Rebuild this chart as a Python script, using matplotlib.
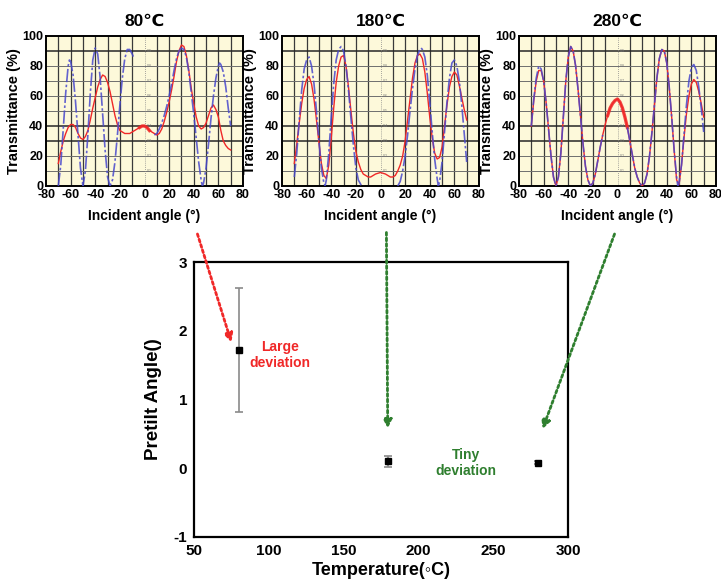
import numpy as np
import matplotlib
matplotlib.use('Agg')
import matplotlib.pyplot as plt

plt.rcParams['font.family'] = ['Liberation Sans', 'DejaVu Sans']
plt.rcParams['font.weight'] = 'bold'
plt.rcParams['axes.unicode_minus'] = False

nan = np.nan

# ---- transmittance curves ----
# simulated (blue dash-dot) and measured (red) for each rubbing temperature
sim80_angle = [-70, -68, -66, -64, -62, -61, -60, -58, -56, -54, -52, -50, -48, -46, -44, -42, -40,
               -38, -36, -34, -32, -30, -28, -26, -24, -22, -20, -18, -16, -14, -12, -10, -9, nan,
               8, 10, 12, 14, 16, 18, 20, 22, 24, 26, 28, 30, 32, 34, 36, 38, 40, 42, 44, 46, 47,
               48, 50, 52, 54, 56, 58, 60, 61, 62, 64, 66, 68, 70]
sim80_T = [0, 14, 38, 62, 80, 84, 83, 74, 56, 34, 12, 0, 10, 34, 62, 84, 92,
           88, 72, 48, 24, 6, 0, 4, 16, 34, 54, 72, 85, 91, 91, 88, 86, nan,
           34, 35, 38, 42, 47, 53, 60, 68, 77, 85, 90, 92, 91, 86, 76, 62, 48, 32, 16, 4, 0,
           2, 12, 28, 45, 60, 72, 80, 82, 81, 76, 66, 52, 40]

meas_angle = [-70, -68, -66, -64, -62, -60, -58, -56, -54, -52, -50, -48, -46, -44, -42, -40,
              -38, -36, -34, -32, -30, -28, -26, -24, -22, -20, -18, -16, -14, -12, -10, -8,
              -6, -4, -2, 0, 2, 4, 6, 8, 10, 12, 14, 16, 18, 20, 22, 24, 26, 28, 30, 32,
              34, 36, 38, 40, 42, 44, 46, 48, 50, 52, 54, 56, 58, 60, 62, 64, 66, 68, 70]
meas80_T = [15, 23, 30, 35, 39, 41, 41, 39, 35, 32, 31, 33, 37, 44, 52, 59,
            66, 71, 74, 73, 69, 63, 55, 47, 41, 37, 36, 35, 35, 35, 36, 37,
            38, 39, 40, 40, 39, 37, 36, 35, 34, 35, 38, 43, 49, 56, 64, 73, 83, 90, 94, 93,
            87, 77, 65, 55, 46, 40, 38, 39, 42, 47, 52, 54, 51, 46, 37, 30, 27, 25, 24]

sim180_angle = [-70, -68, -66, -64, -62, -60, -58, -56, -54, -52, -50, -48, -46, -45, -44, -42,
                -40, -38, -36, -34, -32, -30, -28, -26, -24, -22, -20, -18, -16, -15, nan,
                14, 16, 18, 20, 22, 24, 26, 28, 30, 32, 33, 34, 36, 38, 40, 42, 44, 46, 47,
                48, 50, 52, 54, 56, 58, 60, 62, 64, 66, 68, 70]
sim180_T = [6, 22, 44, 64, 78, 84, 86, 80, 68, 50, 30, 12, 2, 0, 4, 22,
            46, 68, 84, 91, 93, 90, 80, 64, 45, 27, 12, 4, 1, 0, nan,
            0, 3, 10, 20, 34, 50, 65, 78, 87, 91, 92, 91, 86, 74, 56, 36, 18, 5, 0,
            3, 16, 36, 56, 72, 82, 84, 80, 70, 54, 35, 16]
meas180_T = [15, 28, 42, 55, 65, 71, 73, 68, 58, 44, 29, 15, 7, 5, 14, 32,
             52, 69, 80, 86, 87, 80, 66, 50, 35, 23, 16, 11, 8, 7, 6, 6,
             7, 8, 8.5, 9, 8.5, 8, 7, 6, 6, 7, 10, 14, 20, 30, 44, 58, 72, 82, 87, 88,
             85, 76, 62, 46, 32, 22, 18, 19, 26, 40, 54, 66, 73, 76, 74, 67, 59, 51, 44]

sim280_angle = [-70, -68, -66, -64, -62, -60, -58, -56, -54, -52, -50, -48, -46, -44, -42, -40,
                -38, -36, -34, -32, -30, -28, -26, -24, -22, -20, -18, -16, -14, -12, nan,
                8, 10, 12, 14, 16, 18, 20, 22, 24, 26, 28, 30, 32, 34, 36, 38, 40, 42, 44, 46,
                48, 49, 50, 52, 54, 56, 58, 60, 62, 64, 66, 68, 70]
sim280_T = [40, 58, 72, 80, 78, 70, 56, 38, 20, 6, 0, 6, 22, 46, 70, 86,
            93, 90, 80, 64, 46, 28, 13, 4, 0, 2, 8, 17, 26, 34, nan,
            39, 30, 21, 12, 6, 2, 0, 2, 8, 20, 36, 54, 72, 85, 91, 90, 82, 66, 46, 24,
            6, 0, 2, 14, 34, 54, 70, 79, 81, 77, 66, 52, 36]
meas280_T = [40, 57, 70, 77, 77, 70, 56, 38, 20, 6, 0, 6, 22, 46, 70, 86,
             93, 90, 80, 64, 46, 28, 13, 4, 0, 2, 8, 17, 26, 34, 41, 47,
             52, 55, 57, 58, 56, 52, 46, 39, 30, 21, 12, 6, 2, 0, 2, 8, 20, 36, 54, 72,
             85, 91, 90, 82, 66, 46, 24, 4, 1, 14, 32, 48, 60, 68, 71, 69, 63, 55, 46]

# half-width (deg) of the noisy, thick part of the measured trace around normal incidence
noisy_halfwidth = [4, 0, 8]

panel_titles = ['80\u2103', '180\u2103', '280\u2103']

# ---- pretilt angle vs rubbing temperature ----
temperature = [80, 180, 280]
pretilt = [1.72, 0.10, 0.08]
pretilt_err = [0.90, 0.08, 0.02]

RED = '#f02828'
GREEN = '#2f7f2f'
BLUE = '#4848cc'

fig = plt.figure(figsize=(7.21, 5.87), dpi=100)

panel_lefts = [46, 282, 519]
panel_data = [
    (sim80_angle, sim80_T, meas_angle, meas80_T),
    (sim180_angle, sim180_T, meas_angle, meas180_T),
    (sim280_angle, sim280_T, meas_angle, meas280_T),
]

top_axes = []
for left, title, hw, (sa, st, ma, mt) in zip(panel_lefts, panel_titles, noisy_halfwidth, panel_data):
    ax = fig.add_axes([left / 721, 1 - 186 / 587, 197 / 721, 150 / 587])
    ax.set_facecolor('#fdf9da')
    ax.set_xlim(-80, 80)
    ax.set_ylim(0, 100)
    # instrument-style grid
    for gx in range(-70, 80, 10):
        if gx == 0:
            continue
        ax.axvline(gx, color='#3a3a3a', lw=0.9, zorder=1)
    for gy in range(10, 100, 10):
        dark = gy in (30, 40, 90)
        ax.axhline(gy, color='#262626' if dark else '#6e6e6e',
                   lw=1.1 if dark else 0.7, zorder=1)
    ax.axvline(0, color='#888888', lw=0.6, ls=(0, (1, 1.5)), zorder=1)
    for k in range(1, 10):
        ax.text(2, k * 10, '0.%d' % k, fontsize=2.5, color='#777777',
                fontweight='normal', va='center', zorder=1)
    ax.plot(ma, mt, color=RED, lw=1.0, zorder=3)
    if hw:
        ma_arr = np.array(ma)
        mt_arr = np.array(mt)
        near = np.abs(ma_arr) <= hw
        ax.plot(ma_arr[near], mt_arr[near], color=RED, lw=2.4, alpha=0.85, zorder=3)
    ax.plot(sa, st, color=BLUE, lw=1.2, ls=(0, (8, 1.5, 1.5, 1.5)), alpha=0.85, zorder=4)
    ax.set_xticks(range(-80, 81, 20))
    ax.set_yticks(range(0, 101, 20))
    ax.tick_params(length=0, labelsize=9, pad=2)
    for lab in ax.get_xticklabels() + ax.get_yticklabels():
        lab.set_fontweight('bold')
    for sp in ax.spines.values():
        sp.set_linewidth(1.4)
    ax.set_title(title, fontsize=12.5, fontweight='bold', pad=7)
    ax.set_xlabel('Incident angle (\u00b0)', fontsize=10, fontweight='bold', labelpad=6)
    ax.set_ylabel('Transmittance (%)', fontsize=10.5, fontweight='bold', labelpad=1)
    top_axes.append(ax)

# ---- bottom panel ----
ax = fig.add_axes([194 / 721, 1 - 537 / 587, 374 / 721, 275 / 587])
ax.errorbar(temperature, pretilt, yerr=pretilt_err, fmt='s', color='black',
            ms=4.5, ecolor='#8a8a8a', elinewidth=1.2, capsize=3, capthick=1.2, zorder=3)
ax.set_xlim(50, 300)
ax.set_ylim(-1, 3)
ax.set_xticks(range(50, 301, 50))
ax.set_yticks(range(-1, 4))
ax.tick_params(length=0, labelsize=11, pad=5)
for lab in ax.get_xticklabels() + ax.get_yticklabels():
    lab.set_fontweight('bold')
for sp in ax.spines.values():
    sp.set_linewidth(1.6)
ax.set_xlabel('Temperature(\u25e6C)', fontsize=13, fontweight='bold', labelpad=3)
ax.set_ylabel('Pretilt Angle()', fontsize=13.5, fontweight='bold', labelpad=8)

ax.text(107.5, 1.65, 'Large\ndeviation', color=RED, fontsize=10, fontweight='bold',
        ha='center', va='center', linespacing=1.2)
ax.text(232, 0.08, 'Tiny\ndeviation', color=GREEN, fontsize=10, fontweight='bold',
        ha='center', va='center', linespacing=1.2)

# dotted arrows linking each spectrum to its data point
arrow_specs = [
    (top_axes[0], (43, -32), (75, 1.83), RED),
    (top_axes[1], (4.8, -31), (179.5, 0.58), GREEN),
    (top_axes[2], (-2.4, -32), (283, 0.57), GREEN),
]
for src_ax, start, end, col in arrow_specs:
    ax.annotate('', xy=end, xycoords='data', xytext=start, textcoords=src_ax.transData,
                annotation_clip=False,
                arrowprops=dict(arrowstyle='-|>,head_length=0.5,head_width=0.25',
                                color=col, lw=2, ls=(0, (1, 1)), shrinkA=0, shrinkB=0))

fig.savefig('out.png', dpi=100)
